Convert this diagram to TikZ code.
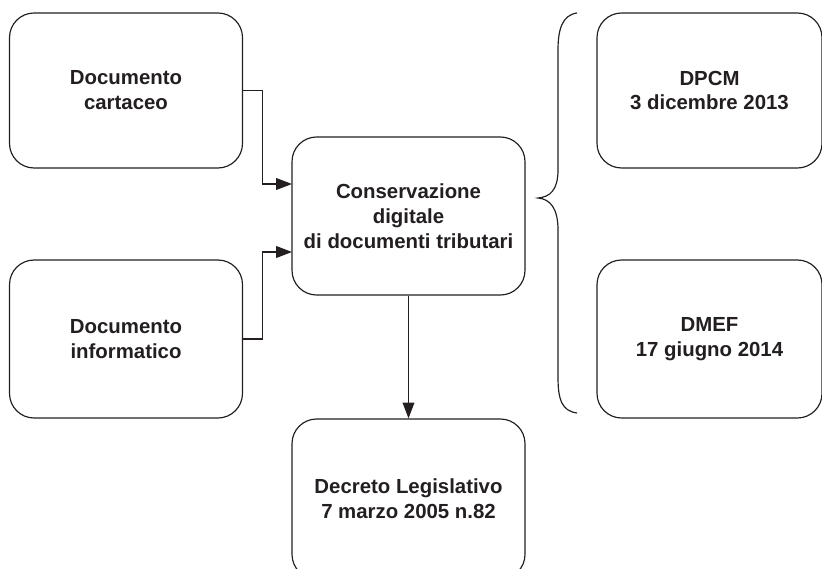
\documentclass[tikz,border=0pt]{standalone}
\usepackage{fontspec}
\setmainfont{Liberation Sans}
\usepackage{xcolor}
\usetikzlibrary{arrows.meta, positioning}
\definecolor{ink}{HTML}{231F20}

\begin{document}
\begin{tikzpicture}[x=0.03cm, y=-0.03cm,
    box/.style={draw=ink, line width=1pt, rounded corners=21pt, align=center,
      text=ink, font=\fontsize{17.4}{21.3}\selectfont\bfseries,
      minimum width=233*0.03cm, inner sep=0pt},
    arr/.style={draw=ink, line width=1pt, -{Triangle[length=13.5pt, width=10pt]}}]
    \useasboundingbox (0,0) rectangle (822,569);
    \clip (0,0) rectangle (822,569);
    % sources on the left
    \node[box, minimum height=155*0.03cm] (cartaceo) at (126,90.5) {Documento\\cartaceo};
    \node[box, minimum height=158*0.03cm] (informatico) at (126,339) {Documento\\informatico};
    % central topic
    \node[box, minimum height=158*0.03cm] (conservazione) at (408.5,216) {Conservazione\\digitale\\di documenti tributari};
    % laws
    \node[box, minimum height=160*0.03cm] (decreto) at (408.5,499) {Decreto Legislativo\\7 marzo 2005 n.82};
    \node[box, minimum height=155*0.03cm, minimum width=225*0.03cm] (dpcm) at (709.5,90.5) {DPCM\\3 dicembre 2013};
    \node[box, minimum height=158*0.03cm, minimum width=225*0.03cm] (dmef) at (709.5,339) {DMEF\\17 giugno 2014};
    % arrows into the centre box
    \coordinate (inA) at (292,184);
    \coordinate (inB) at (292,252);
    \draw[arr] (cartaceo.east) -- ++(19,0) |- (inA);
    \draw[arr] (informatico.east) -- ++(19,0) |- (inB);
    \draw[arr] (conservazione.south) -- (decreto.north);
    % brace towards the decrees
    \draw[ink, line width=1pt] (577,13) .. controls (562,15) and (558,30) .. (558,50)
      -- (558,170) .. controls (558,190) and (550,197) .. (538,198)
      .. controls (550,199) and (558,208) .. (558,230)
      -- (558,377) .. controls (558,400) and (562,411) .. (577,413);
\end{tikzpicture}
\end{document}
